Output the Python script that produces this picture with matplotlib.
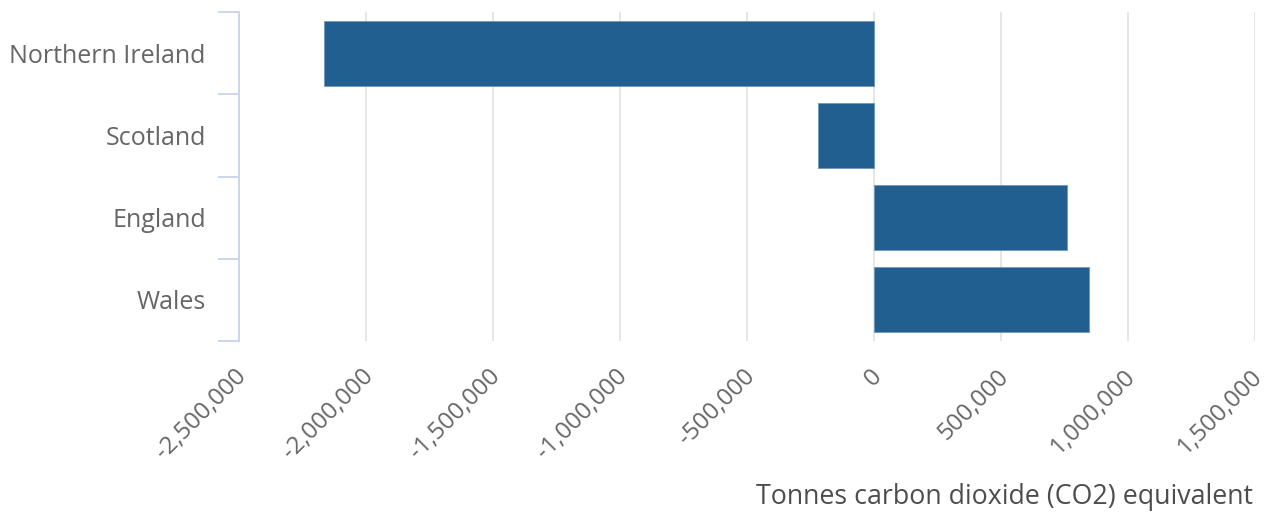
import matplotlib
matplotlib.use("Agg")
import matplotlib.pyplot as plt
import matplotlib.transforms as mtransforms
from matplotlib.ticker import FuncFormatter, FixedLocator

plt.rcParams['font.family'] = ['Open Sans', 'DejaVu Sans']

# data
regions = ['Northern Ireland', 'Scotland', 'England', 'Wales']
values = [-2165000, -220000, 760000, 846000]
x_ticks = [-2500000, -2000000, -1500000, -1000000, -500000, 0, 500000, 1000000, 1500000]
x_title = 'Tonnes carbon dioxide (CO2) equivalent'

bar_color = '#215f91'
label_color = '#666666'
axis_color = '#ccd6eb'
grid_color = '#e6e6e6'

fig = plt.figure(figsize=(12.66, 5.15), dpi=100)
ax = fig.add_axes([239 / 1266, 1 - 341 / 515, (1255 - 239) / 1266, (341 - 12) / 515])

pos = list(range(len(regions)))
ax.barh(pos, values, height=0.79, color=bar_color, edgecolor='#6f95b8', linewidth=0.6, zorder=3)

ax.set_xlim(x_ticks[0], x_ticks[-1])
ax.set_ylim(len(regions) - 0.5, -0.5)

ax.set_xticks(x_ticks)
ax.xaxis.set_major_formatter(FuncFormatter(lambda v, p: f'{int(v):,}'))
ax.grid(axis='x', color=grid_color, linewidth=1.4, zorder=0)
ax.tick_params(axis='x', length=0, pad=23, labelsize=17.5, labelcolor=label_color)
shift = mtransforms.ScaledTranslation(4 / 100, 0, fig.dpi_scale_trans)
for lbl in ax.get_xticklabels():
    lbl.set_rotation(45)
    lbl.set_rotation_mode('anchor')
    lbl.set_ha('right')
    lbl.set_va('center')
    lbl.set_transform(lbl.get_transform() + shift)

ax.set_yticks(pos)
ax.set_yticklabels(regions)
ax.tick_params(axis='y', which='major', length=0, pad=24, labelsize=18, labelcolor=label_color)
ax.yaxis.set_minor_locator(FixedLocator([p - 0.5 for p in pos] + [len(regions) - 0.5]))
ax.tick_params(axis='y', which='minor', length=15, width=1.4, color=axis_color)

for side in ['top', 'right', 'bottom']:
    ax.spines[side].set_visible(False)
ax.spines['left'].set_color(axis_color)
ax.spines['left'].set_linewidth(1.4)

fig.text(1253 / 1266, 1 - 497 / 515, x_title, ha='right', va='center',
         fontsize=19.3, color='#4d4d4d')

fig.savefig('out.png', dpi=100)
